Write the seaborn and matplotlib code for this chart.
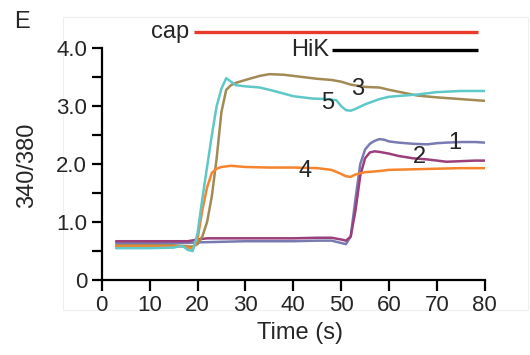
import pandas as pd
import matplotlib
matplotlib.use("Agg")
import matplotlib.pyplot as plt
import matplotlib.patches as patches
import seaborn as sns

# valores
t1 = [3, 10, 15, 18, 20, 25, 30, 35, 40, 45, 48, 50, 51, 52, 53, 54, 55, 56, 57, 58, 59, 60, 62, 65, 68, 70, 72, 75, 78, 80]
v1 = [0.64, 0.64, 0.64, 0.64, 0.65, 0.66, 0.67, 0.67, 0.67, 0.68, 0.68, 0.64, 0.62, 0.75, 1.4, 2.0, 2.25, 2.35, 2.4, 2.43, 2.42, 2.39, 2.37, 2.35, 2.34, 2.36, 2.37, 2.38, 2.38, 2.37]

t2 = [3, 10, 15, 18, 20, 22, 25, 30, 35, 40, 45, 48, 50, 51, 52, 53, 54, 55, 56, 57, 58, 60, 62, 65, 68, 70, 72, 75, 78, 80]
v2 = [0.67, 0.67, 0.67, 0.67, 0.7, 0.72, 0.72, 0.72, 0.72, 0.72, 0.73, 0.73, 0.7, 0.68, 0.75, 1.2, 1.8, 2.1, 2.2, 2.22, 2.21, 2.18, 2.14, 2.1, 2.08, 2.06, 2.04, 2.05, 2.06, 2.06]

t3 = [3, 10, 15, 18, 19, 20, 21, 22, 23, 24, 25, 26, 27, 28, 30, 33, 35, 38, 40, 45, 48, 50, 52, 55, 58, 60, 63, 66, 70, 75, 80]
v3 = [0.6, 0.6, 0.6, 0.58, 0.58, 0.62, 0.75, 1.0, 1.45, 2.1, 2.9, 3.28, 3.36, 3.4, 3.45, 3.52, 3.55, 3.54, 3.52, 3.47, 3.45, 3.42, 3.37, 3.33, 3.32, 3.28, 3.23, 3.18, 3.15, 3.12, 3.09]

t4 = [3, 10, 15, 17, 18, 19, 20, 21, 22, 23, 24, 25, 27, 30, 35, 40, 45, 48, 50, 51, 52, 53, 55, 58, 60, 65, 70, 75, 80]
v4 = [0.58, 0.58, 0.58, 0.58, 0.56, 0.54, 0.7, 1.2, 1.6, 1.85, 1.92, 1.95, 1.97, 1.95, 1.94, 1.94, 1.93, 1.9, 1.83, 1.79, 1.78, 1.82, 1.86, 1.88, 1.9, 1.91, 1.92, 1.93, 1.93]

t5 = [3, 10, 15, 16, 17, 18, 19, 20, 21, 22, 23, 24, 25, 26, 27, 28, 30, 33, 36, 40, 44, 47, 49, 50, 51, 52, 53, 55, 58, 60, 63, 66, 70, 75, 80]
v5 = [0.55, 0.55, 0.56, 0.58, 0.58, 0.52, 0.5, 0.8, 1.4, 1.95, 2.5, 3.0, 3.3, 3.48, 3.42, 3.36, 3.34, 3.32, 3.26, 3.17, 3.13, 3.12, 3.1, 3.0, 2.93, 2.92, 2.95, 3.03, 3.12, 3.16, 3.18, 3.2, 3.24, 3.26, 3.26]

trazas = ["1", "2", "3", "4", "5"]
colores = ["#7a7ab2", "#9b3f7b", "#a28a55", "#f5842c", "#5ec8c8"]
etiquetas_pos = [(73.7, 2.36), (66.4, 2.12), (53.4, 3.29), (42.4, 1.88), (47.2, 3.05)]

cap_x = [19.2, 78.5]
cap_y = 4.28
hik_x = [48.0, 78.5]
hik_y = 3.97

xticks = [0, 10, 20, 30, 40, 50, 60, 70, 80]
yticks = [0, 0.5, 1.0, 1.5, 2.0, 2.5, 3.0, 3.5, 4.0]
ylabels = ["0", "", "1.0", "", "2.0", "", "3.0", "", "4.0"]

sns.set_theme(style="ticks")
plt.rcParams["font.family"] = ["Liberation Sans", "DejaVu Sans"]

df = pd.concat([
    pd.DataFrame({"t": t, "v": v, "traza": n})
    for t, v, n in zip([t1, t2, t3, t4, t5], [v1, v2, v3, v4, v5], trazas)
])

fig = plt.figure(figsize=(5.3, 3.55), dpi=100)
ax = fig.add_axes([0.192, 0.211, 0.7226, 0.719])
ax.patch.set_alpha(0)

sns.lineplot(data=df, x="t", y="v", hue="traza", palette=dict(zip(trazas, colores)),
             legend=False, lw=1.8, ax=ax, estimator=None, sort=False)

for n, (x, y) in zip(trazas, etiquetas_pos):
    ax.text(x, y, n, fontsize=17, ha="center", va="center")

ax.plot(cap_x, [cap_y, cap_y], color="#e8392a", lw=2.4, clip_on=False, solid_capstyle="butt")
ax.text(cap_x[0] - 1.0, cap_y, "cap", fontsize=17, ha="right", va="center")
ax.plot(hik_x, [hik_y, hik_y], color="black", lw=2.4, clip_on=False, solid_capstyle="butt")
ax.text(hik_x[0] - 0.6, hik_y, "HiK", fontsize=17, ha="right", va="center")

ax.set_xlim(0, 80)
ax.set_ylim(0, 4.4)
ax.set_xticks(xticks)
ax.set_yticks(yticks)
ax.set_yticklabels(ylabels)
ax.tick_params(axis="both", labelsize=16, width=1.6, color="black", pad=3)
ax.tick_params(axis="y", length=7.5)
ax.tick_params(axis="x", length=8)
ax.set_xlabel("Time (s)", fontsize=17)
ax.set_ylabel("340/380", fontsize=17)
ax.xaxis.set_label_coords(0.517, -0.165)
ax.yaxis.set_label_coords(-0.165, 0.45)

sns.despine(ax=ax)
ax.spines["left"].set_bounds(0, 4)
for s in ["left", "bottom"]:
    ax.spines[s].set_linewidth(1.6)
    ax.spines[s].set_color("black")

# marco tenue de fondo
fig.patches.append(patches.Rectangle((63 / 530, 1 - 310 / 355), 465 / 530, 293 / 355,
                                     transform=fig.transFigure, fill=False,
                                     ec="#efefef", lw=0.8, zorder=-1))
fig.text(0.041, 0.939, "E", fontsize=17, ha="center", va="center")

fig.savefig("out.png", dpi=100)
